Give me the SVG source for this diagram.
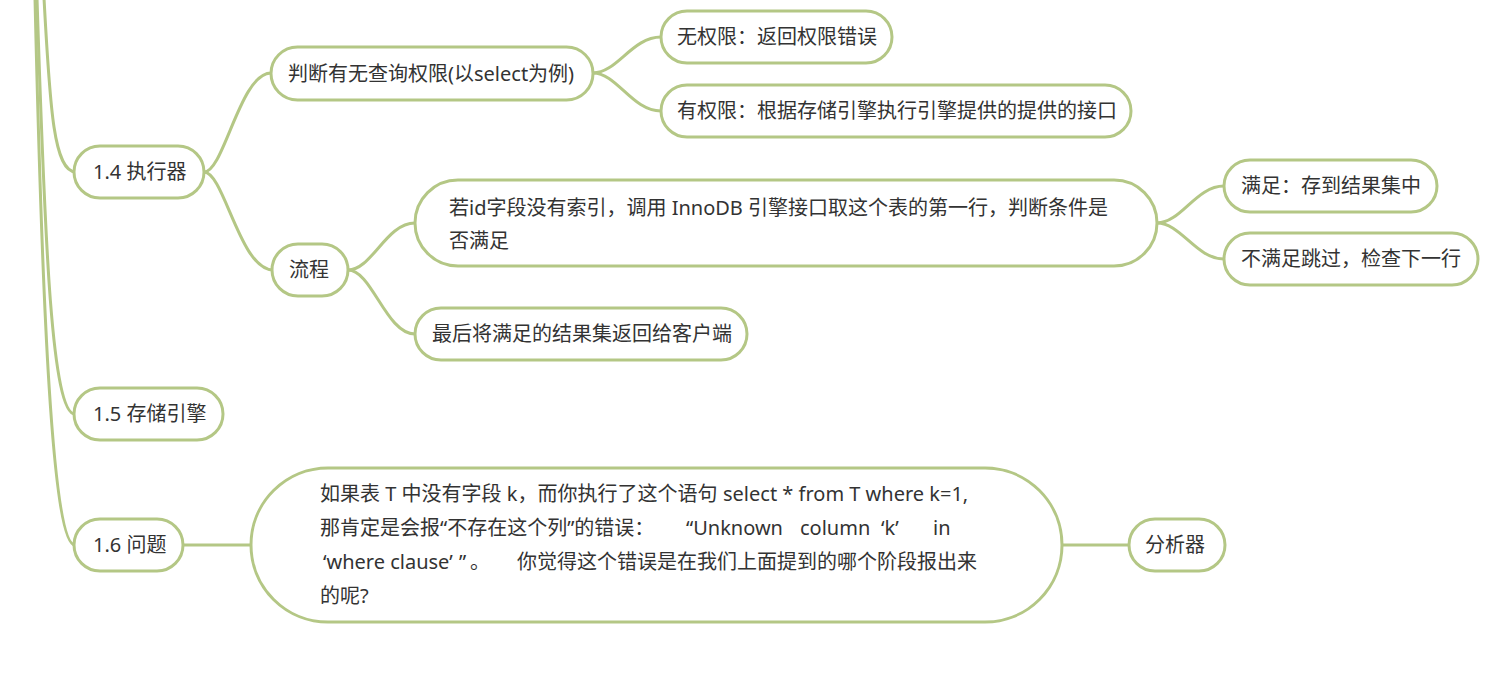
<svg xmlns="http://www.w3.org/2000/svg" width="1500" height="694" viewBox="0 0 1500 694">
<style>
.n{fill:#fff;stroke:#b4c785;stroke-width:3}
.c{fill:none;stroke:#b4c785;stroke-width:3}
text{font-family:"Noto Sans","Noto Sans CJK SC",sans-serif;font-size:20px;fill:#333}
</style>
<rect width="1500" height="694" fill="#fff"/>
<g id="connectors">
<path class="c" d="M44 -2 C50 110 54 172 76 172"/>
<path class="c" d="M37 -2 C45 250 52 414 75 414"/>
<path class="c" d="M35 -2 C42 300 52 545 75 545"/>
<path class="c" d="M204 172 C224 172 240 73 271 73"/>
<path class="c" d="M204 172 C224 172 240 270 273 270"/>
<path class="c" d="M593 73 C617 73 632 37 661 37"/>
<path class="c" d="M593 73 C617 73 632 111 661 111"/>
<path class="c" d="M348 270 C372 270 386 223 415 223"/>
<path class="c" d="M348 270 C372 270 386 334 415 334"/>
<path class="c" d="M1157 223 C1181 223 1196 186 1224 186"/>
<path class="c" d="M1157 223 C1181 223 1196 259 1224 259"/>
<path class="c" d="M183 545 L251 545"/>
<path class="c" d="M1062 545 L1129 545"/>
</g>
<g id="n14"><rect class="n" x="74" y="146" width="130" height="52" rx="26"/><text x="93" y="179">1.4 执行器</text></g>
<g id="nquan"><rect class="n" x="271" y="47" width="322" height="53" rx="26.5"/><text x="288" y="81">判断有无查询权限(以select为例)</text></g>
<g id="nwu"><rect class="n" x="661" y="11" width="231" height="52" rx="26"/><text x="677" y="44">无权限：返回权限错误</text></g>
<g id="nyou"><rect class="n" x="661" y="85" width="470" height="52" rx="26"/><text x="677" y="118">有权限：根据存储引擎执行引擎提供的提供的接口</text></g>
<g id="nliu"><rect class="n" x="272" y="244" width="76" height="52" rx="26"/><text x="289" y="277">流程</text></g>
<g id="nruo"><rect class="n" x="415" y="180" width="742" height="86" rx="43"/><text x="449" y="215">若id字段没有索引，调用 InnoDB 引擎接口取这个表的第一行，判断条件是</text><text x="449" y="248">否满足</text></g>
<g id="nzui"><rect class="n" x="415" y="308" width="332" height="52" rx="26"/><text x="432" y="341">最后将满足的结果集返回给客户端</text></g>
<g id="nman"><rect class="n" x="1224" y="160" width="213" height="52" rx="26"/><text x="1241" y="193">满足：存到结果集中</text></g>
<g id="nbu"><rect class="n" x="1224" y="233" width="254" height="52" rx="26"/><text x="1241" y="266">不满足跳过，检查下一行</text></g>
<g id="n15"><rect class="n" x="74" y="388" width="149" height="52" rx="26"/><text x="93" y="421">1.5 存储引擎</text></g>
<g id="n16"><rect class="n" x="74" y="519" width="109" height="52" rx="26"/><text x="93" y="552">1.6 问题</text></g>
<g id="nq"><rect class="n" x="251" y="468" width="811" height="154" rx="77"/>
<text x="320" y="501">如果表 T 中没有字段 k，而你执行了这个语句 <tspan x="723">select * from T where k=1,</tspan></text>
<text x="320" y="535">那肯定是会报“不存在这个列”的错误：<tspan x="686">“Unknown</tspan><tspan x="800">column</tspan><tspan x="881">‘k’</tspan><tspan x="933">in</tspan></text>
<text x="323" y="569">‘where clause’<tspan x="459">”</tspan><tspan x="470">。</tspan><tspan x="517">你觉得这个错误是在我们上面提到的哪个阶段报出来</tspan></text>
<text x="320" y="603">的呢?</text>
</g>
<g id="nfen"><rect class="n" x="1129" y="519" width="96" height="52" rx="26"/><text x="1145" y="552">分析器</text></g>
</svg>
